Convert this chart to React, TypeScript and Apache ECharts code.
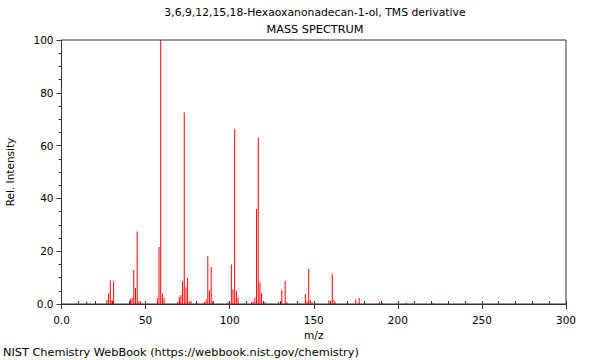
import React, { useEffect, useRef } from "react";
import * as echarts from "echarts";

const titleText = "3,6,9,12,15,18-Hexaoxanonadecan-1-ol, TMS derivative";
const subtitleText = "MASS SPECTRUM";
const footerText = "NIST Chemistry WebBook (https://webbook.nist.gov/chemistry)";
const xAxisName = "m/z";
const yAxisName = "Rel. Intensity";

const mzValues = [
  15, 27, 28, 29, 30, 31, 41, 42, 43, 44, 45, 46, 47, 57, 58, 59, 60, 61, 69, 70,
  71, 72, 73, 74, 75, 76, 77, 85, 86, 87, 88, 89, 90, 99, 101, 102, 103, 104, 105,
  113, 114, 115, 116, 117, 118, 119, 121, 129, 131, 133, 134, 145, 146, 147, 148,
  149, 159, 161, 162, 163, 175, 177, 189, 191, 205, 221,
];
const intensities = [
  1.0, 1.5, 4, 9, 1.5, 8.6, 2, 2.3, 12.9, 6, 27.5, 1, 1, 2.3, 21.6, 100, 4, 2.3, 0.7, 2.7,
  3.4, 8.6, 72.6, 6.3, 10, 1, 1.2, 0.8, 1.7, 18.2, 5.2, 14, 1, 0.7, 15, 5.5, 66.2, 4.9, 2.4,
  0.8, 0.8, 2.4, 36, 62.9, 8.2, 4.2, 0.7, 0.7, 5.3, 8.7, 0.8, 3.8, 1, 13.3, 1.5,
  0.7, 1.4, 11.3, 1.5, 0.6, 1.7, 2.3, 0.8, 0.3, 0.6, 0.4,
];

const font = "DejaVu Sans";

export default function App() {
  const ref = useRef<HTMLDivElement>(null);
  useEffect(() => {
    if (!ref.current) return;
    const chart = echarts.init(ref.current, null, { renderer: "svg" });
    const data = mzValues.map((m, i) => [m, intensities[i]]);
    const fmt = (v: number) => (v === 0 ? "0.0" : String(v));
    chart.setOption({
      animation: false,
      backgroundColor: "#fff",
      textStyle: { fontFamily: font },
      title: [
        {
          text: titleText,
          left: 315,
          top: 7,
          padding: 0,
          textAlign: "center",
          textStyle: { fontFamily: font, fontSize: 10.8, fontWeight: "normal", color: "#000" },
        },
        {
          text: subtitleText,
          left: 315,
          top: 24,
          padding: 0,
          textAlign: "center",
          textStyle: { fontFamily: font, fontSize: 11.3, fontWeight: "normal", color: "#000" },
        },
        {
          text: footerText,
          left: 3,
          top: 347,
          padding: 0,
          textStyle: { fontFamily: font, fontSize: 11.3, fontWeight: "normal", color: "#000" },
        },
      ],
      grid: {
        left: 61.5,
        right: 34,
        top: 40,
        bottom: 56,
        show: true,
        borderColor: "#333",
        borderWidth: 1,
        backgroundColor: "transparent",
        outerBoundsMode: "none",
        containLabel: false,
      },
      xAxis: [
        {
          type: "value",
          min: 0,
          max: 300,
          interval: 50,
          name: xAxisName,
          nameLocation: "middle",
          nameGap: 25,
          nameTextStyle: { fontFamily: font, fontSize: 10.5, color: "#000" },
          axisLine: { show: true, lineStyle: { color: "#333" } },
          axisTick: { show: true, length: 5, lineStyle: { color: "#333" } },
          axisLabel: { formatter: fmt, fontFamily: font, fontSize: 10.5, color: "#000", margin: 10 },
          splitLine: { show: false },
        },
        {
          type: "value",
          min: 0,
          max: 300,
          interval: 10,
          position: "bottom",
          axisLine: { show: false },
          axisTick: { show: true, inside: true, length: 3, lineStyle: { color: "#333" } },
          axisLabel: { show: false },
          splitLine: { show: false },
        },
      ],
      yAxis: [
        {
          type: "value",
          min: 0,
          max: 100,
          interval: 20,
          name: yAxisName,
          nameLocation: "middle",
          nameGap: 46,
          nameTextStyle: { fontFamily: font, fontSize: 10.5, color: "#000" },
          axisLine: { show: true, lineStyle: { color: "#333" } },
          axisTick: { show: true, length: 5, lineStyle: { color: "#333" } },
          minorTick: { show: true, splitNumber: 4, length: 3, lineStyle: { color: "#333" } },
          axisLabel: { formatter: fmt, fontFamily: font, fontSize: 10.5, color: "#000", margin: 8 },
          splitLine: { show: false },
        },
      ],
      series: [
        {
          type: "custom",
          xAxisIndex: 0,
          yAxisIndex: 0,
          data,
          renderItem: (_params: any, api: any) => {
            const p0 = api.coord([api.value(0), 0]);
            const p1 = api.coord([api.value(0), api.value(1)]);
            return {
              type: "line",
              shape: { x1: p0[0], y1: p0[1], x2: p1[0], y2: p1[1] },
              style: { stroke: "#ff0000", lineWidth: 1 },
            };
          },
        },
      ],
    });
    return () => chart.dispose();
  }, []);
  return (
    <div
      ref={ref}
      style={{ position: "fixed", left: 0, top: 0, width: 600, height: 360 }}
    />
  );
}
